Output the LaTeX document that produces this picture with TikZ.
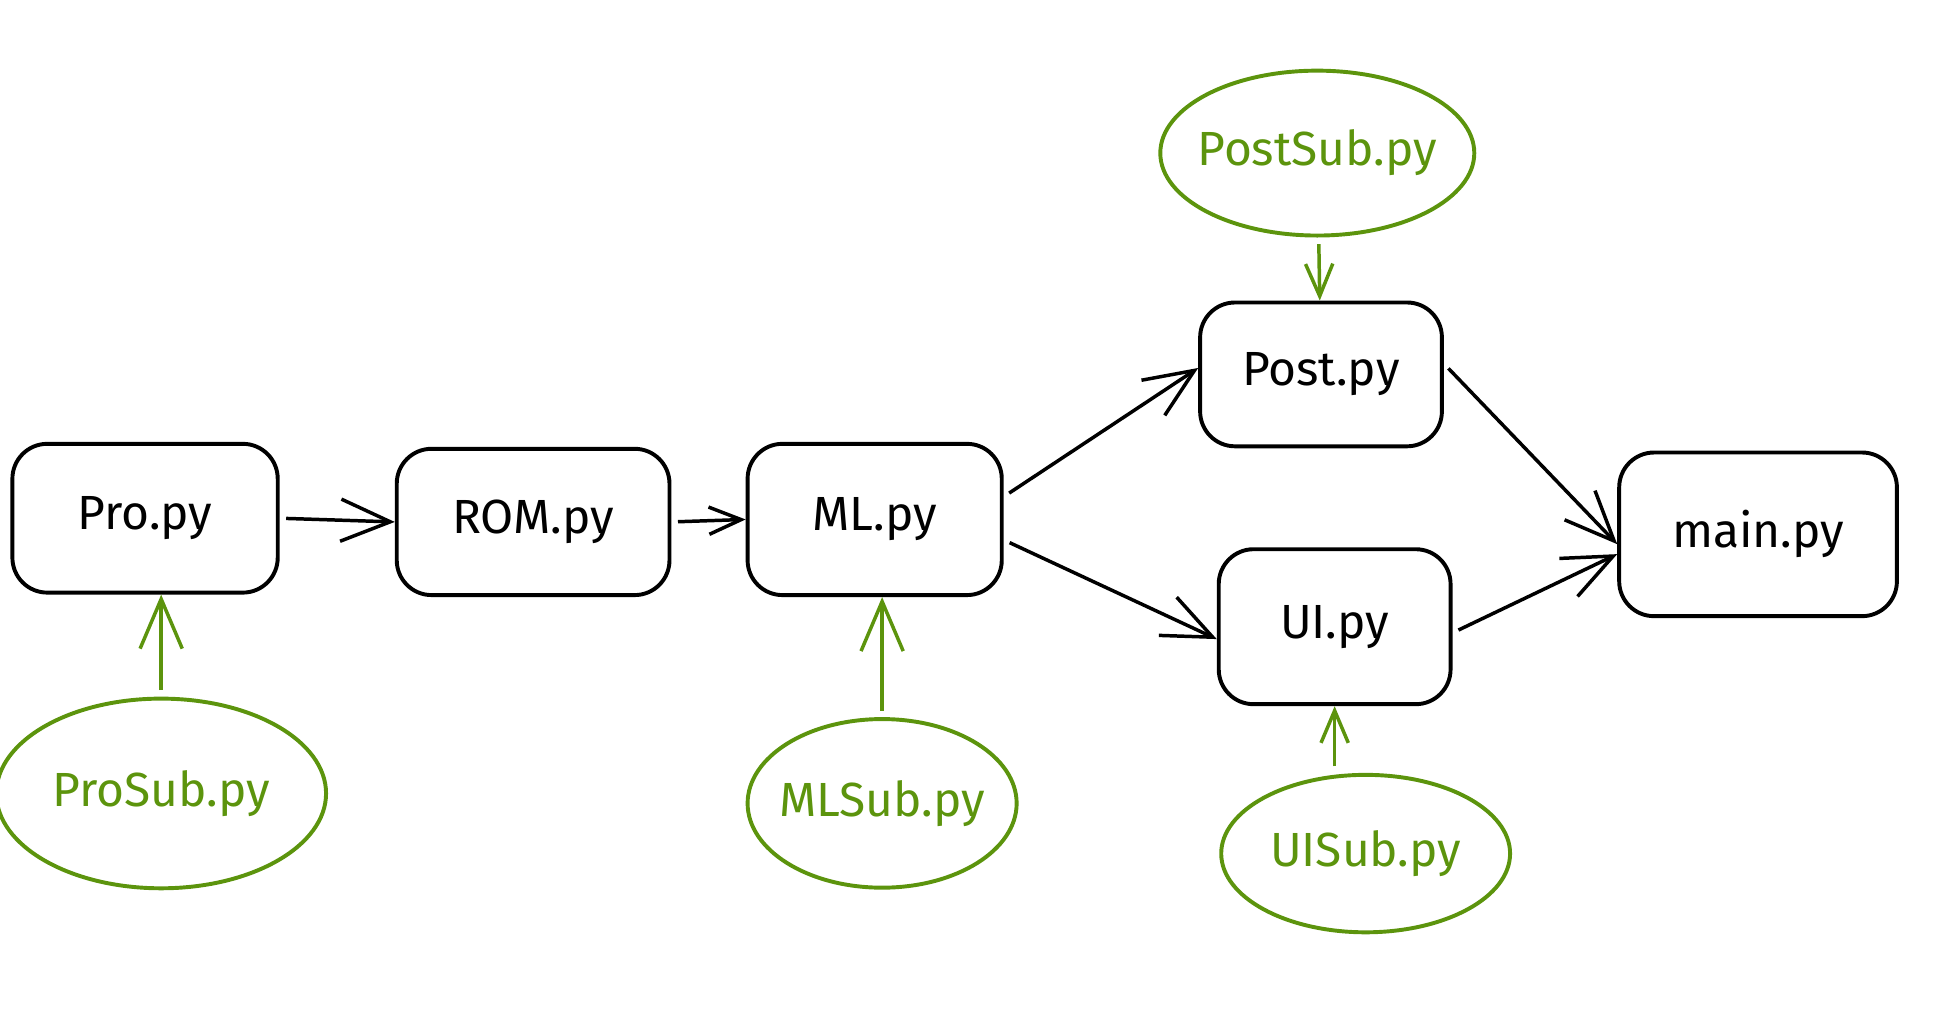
\documentclass[tikz,border=0pt]{standalone}
\usepackage{fontspec}
\setmainfont{Fira Sans}
\usepackage{tikz}
\usetikzlibrary{arrows.meta, shapes.geometric, positioning, calc}
\definecolor{subgreen}{HTML}{5C940D}

\begin{document}
\begin{tikzpicture}[
  module/.style={rectangle, draw, line width=0.9pt, rounded corners=8pt, align=center, font=\fontsize{11}{13}\selectfont},
  sub/.style={ellipse, draw=subgreen, line width=0.9pt, text=subgreen, inner xsep=-2pt, inner ysep=0pt, font=\fontsize{11}{13}\selectfont},
  arrow/.style={-{Straight Barb[length=4mm, width=3.4mm]}, line width=0.8pt, shorten <=1.5pt},
  subarrow/.style={arrow, draw=subgreen},
  smallarrow/.style={-{Straight Barb[length=2.6mm, width=2.2mm]}, line width=0.8pt, shorten <=1.5pt}
]
\useasboundingbox (0,0) rectangle (15.68,-8.24);

\node[module, minimum width=2.14cm, minimum height=1.20cm] (pro) at (1.17,-4.18) {Pro.py};
\node[module, minimum width=2.20cm, minimum height=1.18cm] (rom) at (4.30,-4.21) {ROM.py};
\node[module, minimum width=2.05cm, minimum height=1.22cm] (ml) at (7.055,-4.19) {ML.py};
\node[module, minimum width=1.95cm, minimum height=1.16cm] (post) at (10.655,-3.02) {Post.py};
\node[module, minimum width=1.87cm, minimum height=1.25cm] (ui) at (10.765,-5.055) {UI.py};
\node[module, minimum width=2.24cm, minimum height=1.32cm] (main) at (14.18,-4.31) {main.py};

\node[sub, minimum width=2.51cm, minimum height=1.33cm] (postsub) at (10.625,-1.235) {PostSub.py};
\node[sub, minimum width=2.66cm, minimum height=1.53cm] (prosub) at (1.30,-6.40) {ProSub.py};
\node[sub, minimum width=2.17cm, minimum height=1.36cm] (mlsub) at (7.115,-6.48) {MLSub.py};
\node[sub, minimum width=2.33cm, minimum height=1.27cm] (uisub) at (11.015,-6.885) {UISub.py};

\draw[arrow] (pro.east) -- (rom.west);
\draw[smallarrow] (rom.east) -- (ml.west);
\draw[arrow] (ml.10) -- (post.177);
\draw[arrow] (ml.-9) -- (ui.186);
\draw[arrow] (post.5) -- (main.184);
\draw[arrow] (ui.-3) -- (main.188);

\draw[subarrow] (prosub.north) -- (prosub.north |- pro.south);
\draw[subarrow] (mlsub.north) -- (mlsub.north |- ml.south);
\draw[smallarrow, draw=subgreen] (ui.south |- uisub.north) -- (ui.south);
\draw[smallarrow, draw=subgreen] (postsub) -- (post);
\end{tikzpicture}
\end{document}
